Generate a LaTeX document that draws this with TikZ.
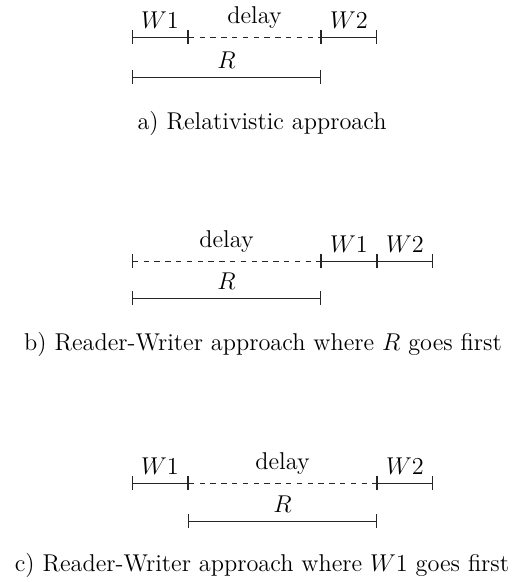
\RequirePackage{fix-cm}
\documentclass[tikz,border=0pt]{standalone}
\usetikzlibrary{arrows.meta}
\begin{document}
\begin{tikzpicture}[x=0.5556pt,y=-0.5556pt,
  font=\fontsize{13.5}{16.2}\selectfont,
  seg/.style={{Bar[width=8pt]}-{Bar[width=8pt]}, line width=0.55pt, draw=black!85},
  dseg/.style={seg, dashed},
  lbl/.style={midway, above, inner sep=4.6pt},
  captxt/.style={inner sep=0pt}]
\useasboundingbox (0,0) rectangle (521,582);
% a)
\coordinate (a0) at (132,37); \coordinate (a1) at (188,37);
\coordinate (a2) at (321,37); \coordinate (a3) at (377,37);
\coordinate (ar0) at (132,77); \coordinate (ar1) at (321,77);
\draw[seg] (a0) -- node[lbl] (aw1) {$W1$} (a1);
\draw[dseg] (a1) -- node[lbl] (ad) {delay} (a2);
\draw[seg] (a2) -- node[lbl] (aw2) {$W2$} (a3);
\draw[seg] (ar0) -- node[lbl] (ar) {$R$} (ar1);
\node[captxt] (capa) at (262,123) {a) Relativistic approach};
% b)
\coordinate (b0) at (132,261); \coordinate (b1) at (321,261);
\coordinate (b2) at (377,261); \coordinate (b3) at (433,261);
\coordinate (br0) at (132,298); \coordinate (br1) at (321,298);
\draw[dseg] (b0) -- node[lbl] (bd) {delay} (b1);
\draw[seg] (b1) -- node[lbl] (bw1) {$W1$} (b2);
\draw[seg] (b2) -- node[lbl] (bw2) {$W2$} (b3);
\draw[seg] (br0) -- node[lbl] (br) {$R$} (br1);
\node[captxt] (capb) at (263,344) {b) Reader-Writer approach where $R$ goes first};
% c)
\coordinate (c0) at (132,483); \coordinate (c1) at (188,483);
\coordinate (c2) at (377,483); \coordinate (c3) at (433,483);
\coordinate (cr0) at (188,521); \coordinate (cr1) at (377,521);
\draw[seg] (c0) -- node[lbl] (cw1) {$W1$} (c1);
\draw[dseg] (c1) -- node[lbl] (cd) {delay} (c2);
\draw[seg] (c2) -- node[lbl] (cw2) {$W2$} (c3);
\draw[seg] (cr0) -- node[lbl] (cr) {$R$} (cr1);
\node[captxt] (capc) at (262,565) {c) Reader-Writer approach where $W1$ goes first};
\end{tikzpicture}
\end{document}
